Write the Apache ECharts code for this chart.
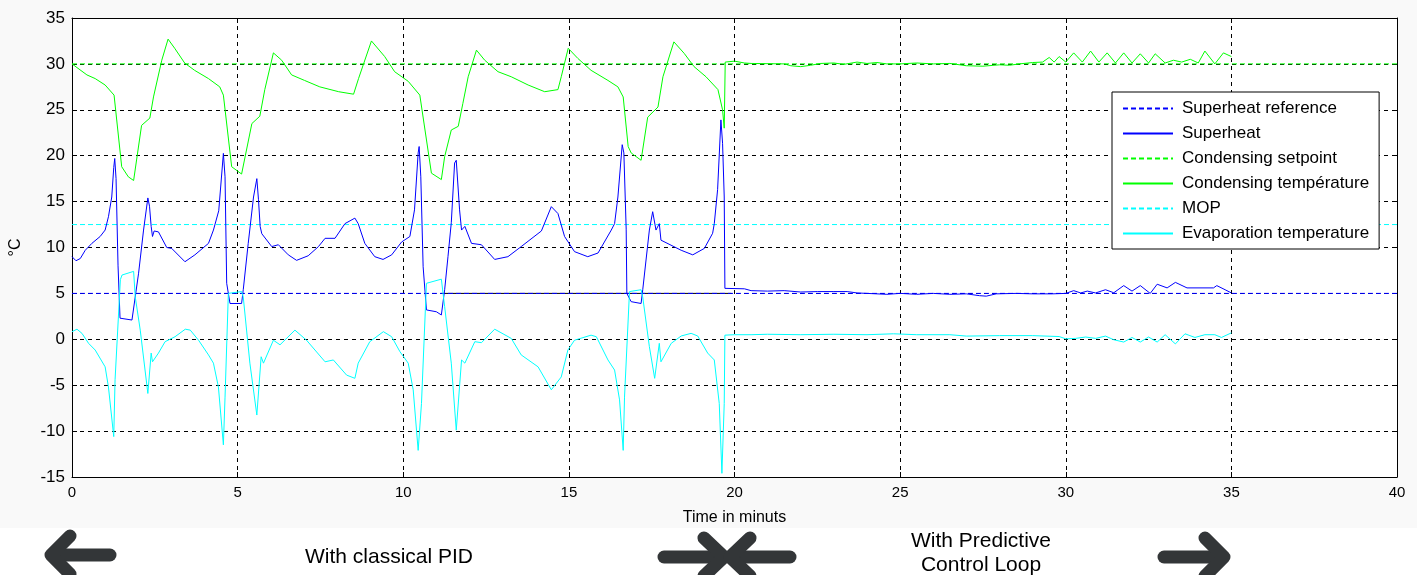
<!DOCTYPE html>
<html>
<head>
<meta charset="utf-8">
<script src="https://cdn.jsdelivr.net/npm/echarts@6/dist/echarts.min.js"></script>
<style>html,body{margin:0;padding:0;background:#fff}#c{width:1417px;height:575px}</style>
</head>
<body>
<div id="c"></div>
<script>
// ---- data (time in minutes, value in °C) ----
const xTicks = [0, 5, 10, 15, 20, 25, 30, 35, 40];
const yTicks = [-15, -10, -5, 0, 5, 10, 15, 20, 25, 30, 35];
const refSpan = [0, 40];
const superheatRef = 5;
const condSetpoint = 30;
const mopLevel = 12.5;
const blackRefSpan = [11.15, 19.9];

const superheat = [
 [0,9.0],[0.12,8.56],[0.25,8.8],[0.4,9.7],[0.6,10.45],[0.85,11.2],[1.0,11.9],[1.1,13.35],[1.2,15.5],[1.26,18.7],[1.29,19.7],[1.33,17.5],[1.39,8.0],[1.45,2.3],[1.81,2.1],[1.86,1.9],[2.01,7.2],[2.16,11.9],[2.29,15.4],[2.34,14.5],[2.39,12.3],[2.43,11.2],[2.48,11.8],[2.61,11.7],[2.86,10.0],[3.01,9.9],[3.41,8.45],[3.71,9.2],[4.12,10.45],[4.27,11.9],[4.43,14.0],[4.57,20.25],[4.62,17.7],[4.67,6.1],[4.77,3.9],[5.12,3.9],[5.17,5.4],[5.32,10.45],[5.48,15.5],[5.58,17.5],[5.63,15.2],[5.68,12.3],[5.73,11.5],[6.03,10.1],[6.23,10.3],[6.53,9.2],[6.78,8.6],[7.13,9.1],[7.44,10.1],[7.64,11.0],[7.94,11.0],[8.24,12.6],[8.54,13.2],[8.64,12.6],[8.84,10.45],[9.14,9.0],[9.39,8.7],[9.65,9.2],[9.95,10.6],[10.2,11.2],[10.34,14.1],[10.45,20.3],[10.48,21.0],[10.53,17.7],[10.6,7.9],[10.7,3.2],[11.0,3.0],[11.15,2.65],[11.25,5.4],[11.35,9.0],[11.45,12.7],[11.55,19.2],[11.6,19.5],[11.7,14.1],[11.76,11.9],[11.86,12.3],[12.06,10.45],[12.36,10.3],[12.76,8.7],[13.16,9.0],[13.56,10.1],[14.17,11.8],[14.47,14.45],[14.67,13.7],[14.87,11.2],[15.17,9.55],[15.57,9.0],[15.88,9.4],[16.28,11.9],[16.38,12.6],[16.48,15.5],[16.61,21.2],[16.66,20.3],[16.73,12.0],[16.75,5.0],[16.88,4.1],[17.18,3.9],[17.23,5.4],[17.43,11.9],[17.53,13.9],[17.63,11.9],[17.73,12.6],[17.78,10.8],[18.39,9.7],[18.74,9.2],[19.09,9.9],[19.34,11.55],[19.39,12.6],[19.49,16.3],[19.59,23.9],[19.64,21.35],[19.69,15.5],[19.71,5.55],
 [20.3,5.5],[20.5,5.3],[21.0,5.25],[21.5,5.3],[22.0,5.15],[22.5,5.2],[23.0,5.2],[23.4,5.2],[23.7,5.05],[24.0,5.0],[24.6,4.9],[25.0,5.0],[25.5,4.9],[26.0,5.0],[26.5,4.9],[27.0,4.95],[27.4,4.75],[27.6,4.7],[27.9,4.95],[28.5,5.0],[29.0,4.95],[29.6,4.95],[30.0,5.0],[30.24,5.3],[30.45,5.05],[30.65,5.25],[30.9,5.05],[31.2,5.4],[31.45,5.07],[31.75,5.85],[32.0,5.25],[32.25,5.85],[32.55,5.0],[32.76,6.0],[33.06,5.6],[33.31,6.2],[33.66,5.6],[34.46,5.6],[34.56,5.85],[34.81,5.4],[35.0,5.05]
];

const condensing = [
 [0,30.0],[0.45,28.8],[0.7,28.4],[1.0,27.7],[1.27,26.6],[1.5,18.8],[1.7,17.7],[1.86,17.3],[2.1,23.3],[2.35,24.1],[2.46,26.4],[2.71,30.4],[2.9,32.7],[3.1,31.7],[3.4,30.1],[3.7,29.3],[4.12,28.4],[4.46,27.5],[4.57,26.6],[4.82,18.8],[5.12,18.0],[5.43,23.5],[5.67,24.3],[5.82,27.2],[6.08,31.2],[6.33,30.4],[6.63,28.8],[7.02,28.2],[7.48,27.5],[8.05,26.97],[8.5,26.7],[8.65,28.4],[9.04,32.5],[9.44,30.8],[9.74,29.15],[10.15,28.1],[10.5,26.6],[10.85,18.1],[11.15,17.4],[11.25,19.9],[11.45,22.8],[11.66,23.2],[11.8,25.7],[11.96,28.6],[12.21,31.5],[12.46,30.4],[12.86,29.15],[13.26,28.6],[13.77,27.7],[14.27,26.97],[14.67,27.2],[14.77,28.6],[14.98,31.7],[15.27,30.6],[15.67,29.3],[16.18,28.2],[16.48,27.5],[16.64,26.4],[16.79,21.0],[16.88,20.3],[17.18,19.5],[17.38,24.2],[17.69,25.3],[17.84,28.6],[18.17,32.4],[18.48,31.15],[18.78,29.7],[19.14,28.6],[19.5,27.2],[19.64,25.0],[19.69,23.0],[19.72,30.2],
 [20.0,30.3],[20.3,30.1],[20.5,30.05],[21.5,30.0],[21.7,29.8],[22.0,29.7],[22.3,29.85],[22.6,30.05],[23.0,30.1],[23.3,29.95],[23.7,30.2],[24.0,30.05],[24.3,30.15],[24.6,30.0],[25.0,30.0],[25.5,30.1],[26.0,30.0],[26.5,30.05],[27.0,29.8],[27.5,29.75],[28.0,29.9],[28.3,29.85],[28.6,30.0],[29.0,30.15],[29.3,30.2],[29.5,30.7],[29.65,30.2],[29.8,30.8],[30.0,30.2],[30.24,31.2],[30.5,30.2],[30.75,31.4],[31.0,30.2],[31.25,31.2],[31.5,30.1],[31.75,31.2],[32.0,30.1],[32.25,31.1],[32.5,30.1],[32.7,31.1],[33.0,30.1],[33.25,30.4],[33.5,30.2],[33.76,30.5],[34.0,30.1],[34.2,31.4],[34.5,30.0],[34.76,31.2],[35.0,30.8]
];

const evaporation = [
 [0,0.83],[0.15,1.1],[0.3,0.65],[0.5,-0.44],[0.7,-1.17],[1.0,-3.0],[1.1,-5.2],[1.26,-10.6],[1.3,-4.4],[1.46,6.5],[1.51,7.0],[1.86,7.4],[1.91,4.6],[2.06,1.0],[2.29,-5.9],[2.39,-1.5],[2.43,-2.45],[2.61,-1.5],[2.81,-0.26],[3.11,0.28],[3.42,1.1],[3.57,1.0],[3.82,-0.1],[4.12,-1.7],[4.27,-2.6],[4.42,-5.2],[4.57,-11.5],[4.62,-6.3],[4.72,5.0],[5.12,5.2],[5.17,4.6],[5.37,-2.6],[5.58,-8.25],[5.71,-1.9],[5.78,-2.6],[6.08,-0.1],[6.28,-0.6],[6.73,1.0],[7.08,-0.1],[7.64,-2.45],[7.89,-2.25],[8.29,-3.9],[8.54,-4.25],[8.64,-2.6],[8.99,-0.26],[9.4,0.83],[9.65,0.28],[9.9,-1.35],[10.15,-2.6],[10.3,-5.5],[10.45,-12.1],[10.55,-7.0],[10.7,6.1],[11.15,6.55],[11.25,3.55],[11.45,-2.6],[11.6,-9.9],[11.76,-2.25],[11.86,-2.6],[12.16,-0.26],[12.36,-0.37],[12.76,1.1],[13.26,0.1],[13.56,-1.7],[14.07,-3.0],[14.47,-5.5],[14.77,-4.1],[14.97,-1.17],[15.17,-0.1],[15.67,0.45],[15.83,0.28],[16.18,-2.25],[16.38,-3.35],[16.53,-6.6],[16.64,-12.1],[16.68,-6.3],[16.83,5.2],[17.18,5.4],[17.23,4.6],[17.43,-0.8],[17.59,-4.25],[17.73,-0.44],[17.78,-2.45],[18.09,-0.44],[18.39,0.36],[18.69,0.65],[18.89,0.36],[19.19,-1.5],[19.39,-2.25],[19.54,-7.0],[19.62,-14.6],[19.69,-7.0],[19.71,0.45],
 [20.0,0.5],[20.5,0.5],[21.0,0.55],[22.0,0.5],[23.0,0.55],[24.0,0.5],[24.8,0.6],[25.5,0.5],[26.5,0.5],[27.0,0.35],[28.0,0.4],[29.0,0.4],[29.8,0.3],[30.0,0.05],[30.3,0.1],[30.6,0.25],[30.9,0.1],[31.2,0.35],[31.45,-0.05],[31.75,-0.3],[32.0,0.2],[32.25,-0.3],[32.5,0.25],[32.76,-0.3],[33.0,0.5],[33.31,-0.5],[33.6,0.6],[33.9,0.2],[34.2,0.5],[34.5,0.5],[34.7,0.2],[35.0,0.7]
];

const seriesNames = ['Superheat reference','Superheat','Condensing setpoint','Condensing température','MOP','Evaporation temperature'];
const bottomLabels = ['With classical PID', 'With Predictive\nControl Loop'];

// ---- chart ----
const FONT = 'Liberation Sans, Arial, sans-serif';
const chart = echarts.init(document.getElementById('c'), null, {renderer: 'canvas'});
const hline = (v, span) => span.map(t => [t, v]);
const lineS = (name, data, color, dashed, z) => ({
  name, type: 'line', data, symbol: 'none', showSymbol: false, silent: true, z: z || 2,
  lineStyle: {color, width: 1, type: dashed ? [5, 3] : 'solid'},
  itemStyle: {color}, animation: false
});
const arrowStyle = {stroke: '#333638', lineWidth: 13, lineCap: 'round', lineJoin: 'round', fill: null};

const option = {
  backgroundColor: '#fff',
  animation: false,
  grid: {left: 70, right: 20, top: 18, bottom: 98, show: true, backgroundColor: '#fff', borderWidth: 0},
  xAxis: [{
    type: 'value', min: xTicks[0], max: xTicks[xTicks.length-1], interval: 5,
    name: 'Time in minuts', nameLocation: 'middle', nameGap: 33,
    nameTextStyle: {fontFamily: FONT, fontSize: 16, color: '#000'},
    axisLine: {show: true, onZero: false, lineStyle: {color: '#000', width: 1}},
    axisTick: {show: true, inside: true, length: 5, lineStyle: {color: '#000'}},
    axisLabel: {fontFamily: FONT, fontSize: 15, color: '#000', margin: 8},
    splitLine: {show: true, lineStyle: {color: '#000', type: [4, 4], width: 1}}
  }, {
    type: 'value', position: 'top', min: xTicks[0], max: xTicks[xTicks.length-1], interval: 5,
    axisLine: {show: true, onZero: false, lineStyle: {color: '#000'}},
    axisTick: {show: true, inside: true, length: 5, lineStyle: {color: '#000'}},
    axisLabel: {show: false}, splitLine: {show: false}
  }],
  yAxis: [{
    type: 'value', min: yTicks[0], max: yTicks[yTicks.length-1], interval: 5,
    name: '°C', nameLocation: 'middle', nameGap: 48, nameRotate: 90,
    nameTextStyle: {fontFamily: FONT, fontSize: 16, color: '#000'},
    axisLine: {show: true, onZero: false, lineStyle: {color: '#000', width: 1}},
    axisTick: {show: true, inside: true, length: 5, lineStyle: {color: '#000'}},
    axisLabel: {fontFamily: FONT, fontSize: 17, color: '#000', margin: 7},
    splitLine: {show: true, lineStyle: {color: '#000', type: [4, 4], width: 1}}
  }, {
    type: 'value', position: 'right', min: yTicks[0], max: yTicks[yTicks.length-1], interval: 5,
    axisLine: {show: true, onZero: false, lineStyle: {color: '#000'}},
    axisTick: {show: true, inside: true, length: 5, lineStyle: {color: '#000'}},
    axisLabel: {show: false}, splitLine: {show: false}
  }],
  legend: {
    show: true,
    orient: 'vertical', left: 1112, top: 92,
    itemWidth: 50, itemHeight: 14, itemGap: 8,
    padding: [8, 10, 7, 10],
    backgroundColor: '#fff', borderColor: '#000', borderWidth: 1, borderRadius: 0,
    itemStyle: {opacity: 0, borderWidth: 0},
    textStyle: {fontFamily: FONT, fontSize: 17, color: '#000', padding: [0, 0, 0, 4]},
    data: seriesNames,
    selectedMode: false,
    z: 20
  },
  series: [
    lineS(seriesNames[0], hline(superheatRef, refSpan), '#0000ff', true, 3),
    lineS(seriesNames[1], superheat, '#0000ff', false, 4),
    lineS(seriesNames[2], hline(condSetpoint, refSpan), '#00ff00', true, 3),
    lineS(seriesNames[3], condensing, '#00ff00', false, 4),
    lineS(seriesNames[4], hline(mopLevel, refSpan), '#00ffff', true, 3),
    lineS(seriesNames[5], evaporation, '#00ffff', false, 4),
    lineS('ref-black', hline(superheatRef, blackRefSpan), '#000000', false, 2)
  ],
  graphic: [
    {type: 'rect', z: -10, silent: true, shape: {x: 0, y: 0, width: 1417, height: 528}, style: {fill: '#f9f9f9'}},
    {type: 'text', x: 305, y: 547, style: {text: bottomLabels[0], font: '21px ' + FONT, fill: '#000'}},
    {type: 'text', x: 981, y: 529, style: {text: bottomLabels[1], font: '21px ' + FONT, fill: '#000', align: 'center', textAlign: 'center', lineHeight: 24}},
    {type: 'polyline', shape: {points: [[110,555],[53,555]]}, style: arrowStyle},
    {type: 'polyline', shape: {points: [[70,536],[51,555],[70,574]]}, style: arrowStyle},
    {type: 'polyline', shape: {points: [[664,557],[722,557]]}, style: arrowStyle},
    {type: 'polyline', shape: {points: [[704,538],[724,557],[704,576]]}, style: arrowStyle},
    {type: 'polyline', shape: {points: [[790,557],[732,557]]}, style: arrowStyle},
    {type: 'polyline', shape: {points: [[750,538],[730,557],[750,576]]}, style: arrowStyle},
    {type: 'polyline', shape: {points: [[1164,557],[1222,557]]}, style: arrowStyle},
    {type: 'polyline', shape: {points: [[1205,538],[1224,557],[1205,576]]}, style: arrowStyle}
  ]
};
chart.setOption(option);
</script>
</body>
</html>
